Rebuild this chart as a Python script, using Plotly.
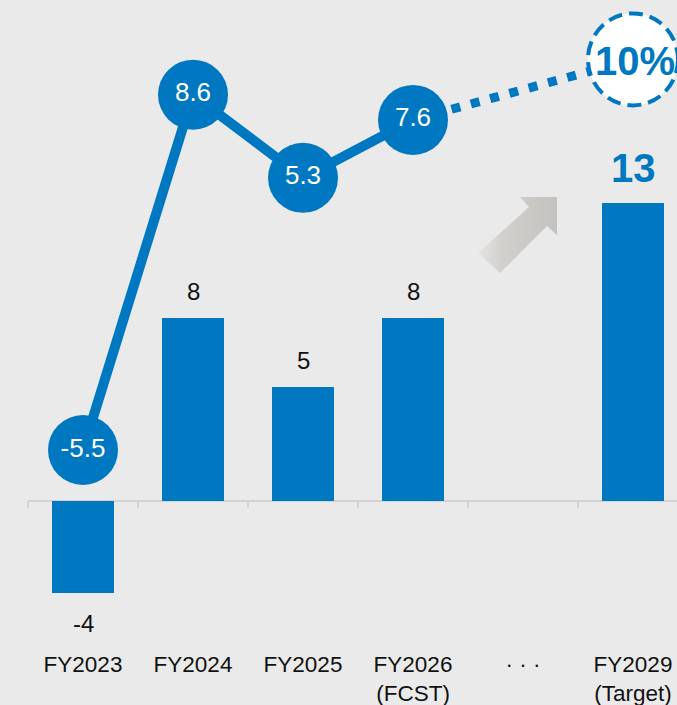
import plotly.graph_objects as go

# data
categories = ["FY2023", "FY2024", "FY2025", "FY2026<br>(FCST)", "· · ·", "FY2029<br>(Target)"]
bar_values = [-4, 8, 5, 8, None, 13]
line_values = [-5.5, 8.6, 5.3, 7.6]
target_value = 10
target_label = "10%"

BLUE = "#0078C1"
BG = "#EAEAEA"
FONT = "Liberation Sans, Arial, sans-serif"

W, H = 677, 705
x_pos = list(range(len(categories)))

# axis ranges (px per unit: x 110, bars 22.9, line 25.2)
x_range = [-0.7545, 5.4]
y_range = [-6.42, 21.88]
y2_range = [-13.357, 12.357]

fig = go.Figure()

# bars
bx = [x for x, v in zip(x_pos, bar_values) if v is not None]
by = [v for v in bar_values if v is not None]
fig.add_trace(go.Bar(x=bx, y=by, width=0.56, marker=dict(color=BLUE, line=dict(width=0)),
                     showlegend=False, hoverinfo="skip"))

# arrow (decoration), drawn in pixel space then mapped onto the bar axes
def px2x(px):
    return x_range[0] + px / W * (x_range[1] - x_range[0])

def px2y(py, plot_h=648):
    return y_range[1] - py / plot_h * (y_range[1] - y_range[0])

arrow_px = [(478, 253), (529, 207), (520, 197), (557, 197), (557, 235), (547, 226), (500, 273), (478, 253)]
fig.add_trace(go.Scatter(
    x=[px2x(p[0]) for p in arrow_px], y=[px2y(p[1]) for p in arrow_px],
    mode="lines", fill="toself", line=dict(width=0, color="rgba(0,0,0,0)"),
    fillgradient=dict(type="horizontal",
                      colorscale=[[0, "#E6E5E4"], [0.3, "#D2D0CD"], [1, "#C4C1BE"]]),
    showlegend=False, hoverinfo="skip"))

# dotted extension to target
fig.add_trace(go.Scatter(x=[x_pos[len(line_values) - 1], x_pos[-1]], y=[line_values[-1], target_value],
                         yaxis="y2", mode="lines", line=dict(color=BLUE, width=9, dash="9px,11px"),
                         showlegend=False, hoverinfo="skip"))

# line with circles
fig.add_trace(go.Scatter(
    x=x_pos[:len(line_values)], y=line_values, yaxis="y2",
    mode="lines+markers+text",
    line=dict(color=BLUE, width=10),
    marker=dict(size=70, color=BLUE, line=dict(width=0)),
    text=[str(v) for v in line_values], textposition="middle center",
    textfont=dict(color="white", size=26, family=FONT),
    showlegend=False, hoverinfo="skip"))

shapes = []
# baseline with tick marks
shapes.append(dict(type="line", xref="x", yref="y", x0=-0.5, x1=6, y0=0, y1=0,
                   line=dict(color="#D3D3D3", width=2), layer="below"))
for k in range(len(categories) + 1):
    shapes.append(dict(type="line", xref="x", yref="y", x0=k - 0.5, x1=k - 0.5, y0=0, y1=-0.3,
                       line=dict(color="#D3D3D3", width=2), layer="below"))
# dashed target circle
shapes.append(dict(type="circle", xref="x", yref="y2", xsizemode="pixel", ysizemode="pixel",
                   xanchor=x_pos[-1], yanchor=target_value, x0=-45, x1=45, y0=-46, y1=46,
                   fillcolor="white", line=dict(color=BLUE, width=4, dash="14px,7px"), layer="above"))

annotations = []
for x, v in zip(x_pos, bar_values):
    if v is None:
        continue
    big = x == x_pos[-1]
    annotations.append(dict(
        x=x, y=v, xref="x", yref="y", showarrow=False,
        text=f"<b>{v}</b>" if big else str(v),
        yanchor="middle", yshift=(35 if big else 26) if v > 0 else -31,
        font=dict(size=40 if big else 24, color=BLUE if big else "#111111", family=FONT)))
annotations.append(dict(x=x_pos[-1], y=target_value, xref="x", yref="y2", showarrow=False,
                        text=f"<b>{target_label}</b>", xshift=2, yshift=-2,
                        font=dict(size=40, color=BLUE, family=FONT)))

fig.update_layout(
    width=W, height=H,
    margin=dict(l=0, r=0, t=0, b=57),
    paper_bgcolor=BG, plot_bgcolor=BG,
    font=dict(family=FONT, color="#111111"),
    xaxis=dict(range=x_range, tickvals=x_pos, ticktext=categories, showgrid=False,
               zeroline=False, showline=False, ticks="", tickfont=dict(size=22.5)),
    yaxis=dict(range=y_range, visible=False, showgrid=False, zeroline=False),
    yaxis2=dict(range=y2_range, overlaying="y", visible=False, showgrid=False, zeroline=False),
    shapes=shapes, annotations=annotations,
    bargap=0, showlegend=False,
)

# drop the browser's default page margin so the chart fills the window
fig.write_html("out.html", config={"displayModeBar": False},
               post_script="document.body.style.margin='0';document.body.style.overflow='hidden';")
